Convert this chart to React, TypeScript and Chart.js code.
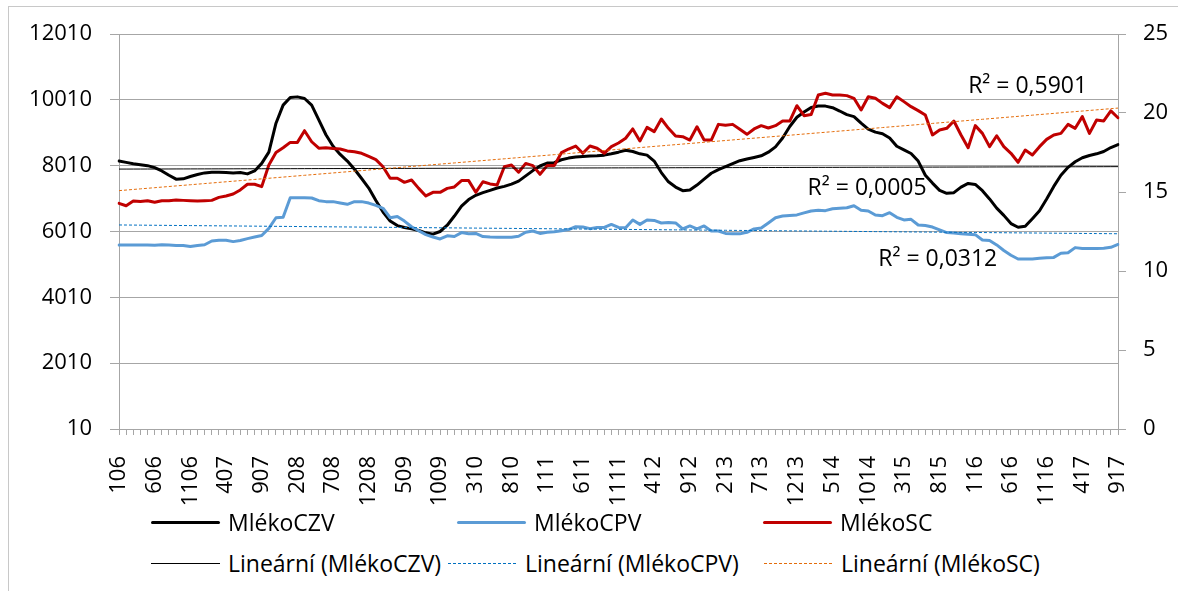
import React, { useEffect, useRef } from 'react';
import { Chart, registerables } from 'chart.js';

Chart.register(...registerables);

const CATEGORIES = [
  '106','206','306','406','506','606','706','806','906','1006','1106','1206',
  '107','207','307','407','507','607','707','807','907','1007','1107','1207',
  '108','208','308','408','508','608','708','808','908','1008','1108','1208',
  '109','209','309','409','509','609','709','809','909','1009','1109','1209',
  '110','210','310','410','510','610','710','810','910','1010','1110','1210',
  '111','211','311','411','511','611','711','811','911','1011','1111','1211',
  '112','212','312','412','512','612','712','812','912','1012','1112','1212',
  '113','213','313','413','513','613','713','813','913','1013','1113','1213',
  '114','214','314','414','514','614','714','814','914','1014','1114','1214',
  '115','215','315','415','515','615','715','815','915','1015','1115','1215',
  '116','216','316','416','516','616','716','816','916','1016','1116','1216',
  '117','217','317','417','517','617','717','817','917',
];

const MLEKO_CZV = [
  8150, 8110, 8070, 8040, 8010, 7950, 7850, 7720, 7600, 7610, 7680, 7740,
  7790, 7810, 7810, 7800, 7790, 7800, 7760, 7850, 8080, 8420, 9300, 9850,
  10080, 10100, 10050, 9850, 9400, 8950, 8600, 8350, 8150, 7900, 7620, 7330,
  6950, 6600, 6330, 6190, 6130, 6090, 6040, 5970, 5930, 6010, 6200, 6480,
  6780, 6980, 7110, 7190, 7260, 7330, 7380, 7450, 7540, 7700, 7860, 8000,
  8090, 8100, 8190, 8240, 8270, 8290, 8300, 8310, 8330, 8370, 8420, 8480,
  8440, 8370, 8330, 8150, 7800, 7520, 7360, 7250, 7270, 7420, 7600, 7780,
  7890, 7980, 8070, 8160, 8210, 8260, 8310, 8420, 8580, 8850, 9200, 9480,
  9640, 9780, 9820, 9820, 9770, 9670, 9560, 9500, 9300, 9120, 9030, 8980,
  8850, 8600, 8490, 8380, 8150, 7720, 7480, 7260, 7170, 7190, 7360, 7470,
  7440, 7250, 7000, 6720, 6500, 6250, 6140, 6170, 6400, 6640, 7000, 7380,
  7720, 7960, 8130, 8250, 8320, 8370, 8440, 8560, 8650,
];

const MLEKO_CPV = [
  11.65, 11.65, 11.65, 11.64, 11.65, 11.63, 11.66, 11.64, 11.62, 11.62, 11.55, 11.62,
  11.66, 11.9, 11.94, 11.94, 11.86, 11.93, 12.05, 12.15, 12.25, 12.7, 13.37, 13.4,
  14.64, 14.64, 14.64, 14.62, 14.45, 14.39, 14.39, 14.3, 14.22, 14.39, 14.39, 14.3,
  14.15, 13.97, 13.37, 13.45, 13.16, 12.8, 12.55, 12.3, 12.15, 12.03, 12.23, 12.18,
  12.43, 12.36, 12.38, 12.18, 12.15, 12.14, 12.14, 12.14, 12.2, 12.45, 12.53, 12.38,
  12.45, 12.48, 12.55, 12.62, 12.8, 12.78, 12.68, 12.76, 12.76, 12.95, 12.76, 12.74,
  13.23, 12.95, 13.23, 13.2, 13.04, 13.07, 13.04, 12.66, 12.85, 12.66, 12.85, 12.53,
  12.53, 12.38, 12.35, 12.35, 12.45, 12.66, 12.72, 13.04, 13.37, 13.48, 13.52, 13.55,
  13.68, 13.8, 13.84, 13.82, 13.94, 13.97, 14.0, 14.13, 13.85, 13.8, 13.54, 13.5,
  13.69, 13.4, 13.23, 13.27, 12.91, 12.88, 12.78, 12.6, 12.43, 12.4, 12.35, 12.32,
  12.3, 11.96, 11.93, 11.65, 11.3, 11.0, 10.76, 10.76, 10.76, 10.8, 10.84, 10.86,
  11.12, 11.15, 11.48, 11.43, 11.43, 11.42, 11.44, 11.5, 11.68,
];

const MLEKO_SC = [
  14.28, 14.13, 14.43, 14.4, 14.45, 14.35, 14.45, 14.45, 14.49, 14.47, 14.45, 14.43,
  14.45, 14.47, 14.66, 14.75, 14.87, 15.13, 15.49, 15.49, 15.34, 16.71, 17.5, 17.8,
  18.14, 18.14, 18.88, 18.18, 17.77, 17.8, 17.75, 17.72, 17.6, 17.55, 17.45, 17.25,
  17.05, 16.6, 15.87, 15.87, 15.61, 15.76, 15.23, 14.75, 14.98, 14.98, 15.23, 15.32,
  15.72, 15.72, 14.98, 15.65, 15.51, 15.45, 16.6, 16.71, 16.25, 16.81, 16.67, 16.12,
  16.67, 16.67, 17.49, 17.72, 17.91, 17.45, 17.91, 17.77, 17.45, 17.87, 18.1, 18.4,
  18.99, 18.23, 19.09, 18.82, 19.62, 19.03, 18.54, 18.5, 18.29, 19.13, 18.29, 18.29,
  19.28, 19.22, 19.28, 18.97, 18.65, 18.99, 19.2, 19.05, 19.2, 19.49, 19.49, 20.46,
  19.83, 19.9, 21.14, 21.25, 21.14, 21.14, 21.1, 20.93, 20.19, 21.03, 20.93, 20.61,
  20.34, 21.03, 20.72, 20.4, 20.15, 19.87, 18.61, 18.92, 19.03, 19.49, 18.61, 17.8,
  19.2, 18.71, 17.87, 18.56, 17.87, 17.45, 16.88, 17.66, 17.34, 17.87, 18.33, 18.61,
  18.71, 19.28, 19.03, 19.77, 18.71, 19.56, 19.5, 20.13, 19.7,
];

const LEFT_TICKS = [10, 2010, 4010, 6010, 8010, 10010, 12010];
const RIGHT_TICKS = [0, 5, 10, 15, 20, 25];

const SERIES_NAMES = ['MlékoCZV', 'MlékoCPV', 'MlékoSC'];
const TREND_NAMES = ['Lineární (MlékoCZV)', 'Lineární (MlékoCPV)', 'Lineární (MlékoSC)'];
const R2_TEXTS = ['R² = 0,5901', 'R² = 0,0005', 'R² = 0,0312'];
// anchor of each R² label: category index and right-axis value
const R2_INDEX = [119, 96.5, 106.4];
const R2_VALUE = [21.7, 15.2, 10.76];

const FONT_FAMILY = '"Open Sans"';
const TICK_SIZE = 22;
const TEXT_SIZE = 23;
const GRID = '#a6a6a6';

const COLORS = ['#000000', '#5B9BD5', '#C00000'];
const TREND_COLORS = ['#000000', '#0070C0', '#E46C0A'];

function linearTrend(values: number[]): number[] {
  const n = values.length;
  let sx = 0, sy = 0, sxx = 0, sxy = 0;
  values.forEach((v, i) => {
    const x = i + 1;
    sx += x; sy += v; sxx += x * x; sxy += x * v;
  });
  const slope = (n * sxy - sx * sy) / (n * sxx - sx * sx);
  const icpt = (sy - slope * sx) / n;
  return values.map((_, i) => icpt + slope * (i + 1));
}

const r2Plugin = {
  id: 'r2labels',
  afterDatasetsDraw(chart: any) {
    const ctx = chart.ctx;
    const xs = chart.scales.x;
    const ys = chart.scales.y2;
    ctx.save();
    ctx.font = `${TEXT_SIZE}px ${FONT_FAMILY}`;
    ctx.fillStyle = '#000';
    ctx.textAlign = 'left';
    ctx.textBaseline = 'middle';
    R2_TEXTS.forEach((t, k) => {
      ctx.fillText(t, xs.getPixelForValue(R2_INDEX[k]), ys.getPixelForValue(R2_VALUE[k]));
    });
    ctx.restore();
  },
};

const LEGEND_ROWS_Y = [522, 563];
const LEGEND_COLS_X = [[151, 457, 763], [151, 448, 764]];

export default function App() {
  const canvasRef = useRef<HTMLCanvasElement>(null);

  useEffect(() => {
    const series = [MLEKO_CZV, MLEKO_CPV, MLEKO_SC];
    const axes = ['y', 'y2', 'y2'];
    const datasets: any[] = [];
    series.forEach((s, k) => {
      datasets.push({
        label: SERIES_NAMES[k],
        data: s,
        yAxisID: axes[k],
        borderColor: COLORS[k],
        backgroundColor: COLORS[k],
        borderWidth: 3,
        pointRadius: 0,
        tension: 0,
        fill: false,
        borderJoinStyle: 'round',
        borderCapStyle: 'round',
        order: 10 - k,
      });
    });
    series.forEach((s, k) => {
      datasets.push({
        label: TREND_NAMES[k],
        data: linearTrend(s),
        yAxisID: axes[k],
        borderColor: TREND_COLORS[k],
        borderWidth: 1,
        borderDash: k === 0 ? [] : [3, 2],
        pointRadius: 0,
        fill: false,
        order: 3 - k,
      });
    });

    const tickFont = { family: FONT_FAMILY, size: TICK_SIZE };
    const chart = new Chart(canvasRef.current!, {
      type: 'line',
      data: { labels: CATEGORIES, datasets },
      options: {
        responsive: false,
        animation: false,
        devicePixelRatio: 1,
        layout: { padding: { top: 34, left: 0, right: 0, bottom: 0 } },
        plugins: { legend: { display: false }, tooltip: { enabled: false } },
        scales: {
          x: {
            type: 'category',
            offset: false,
            grid: { display: true, drawOnChartArea: false, drawTicks: true, tickLength: 6, color: GRID },
            border: { display: true, color: GRID },
            ticks: {
              autoSkip: false,
              maxRotation: 90,
              minRotation: 90,
              padding: 21,
              color: '#000',
              font: tickFont,
              callback: (_v: any, i: number) => (i % 5 === 0 ? CATEGORIES[i] : ''),
            },
            afterFit: (s: any) => { s.height = 86; },
          },
          y: {
            position: 'left',
            min: 10,
            max: 12010,
            afterBuildTicks: (s: any) => { s.ticks = LEFT_TICKS.map((v) => ({ value: v })); },
            grid: { color: GRID, tickLength: 9, drawTicks: true },
            border: { display: true, color: GRID },
            ticks: { padding: 18, color: '#000', font: tickFont, callback: (v: any) => String(v) },
            afterFit: (s: any) => { s.width = 119; },
          },
          y2: {
            position: 'right',
            min: 0,
            max: 25,
            afterBuildTicks: (s: any) => { s.ticks = RIGHT_TICKS.map((v) => ({ value: v })); },
            grid: { drawOnChartArea: false, tickLength: 8, color: GRID, drawTicks: true },
            border: { display: true, color: GRID },
            ticks: { padding: 17, color: '#000', font: tickFont, callback: (v: any) => String(v) },
            afterFit: (s: any) => { s.width = 60; },
          },
        },
      },
      plugins: [r2Plugin],
    } as any);

    return () => chart.destroy();
  }, []);

  const legendItems = [0, 1].flatMap((row) =>
    [0, 1, 2].map((col) => ({ row, col }))
  );

  return (
    <div style={{ position: 'fixed', left: 0, top: 0, width: 1178, height: 591, overflow: 'hidden', background: '#fff' }}>
      <div style={{ position: 'absolute', left: 8, top: 6, width: 2000, height: 2000, borderLeft: '1px solid #c8c8c8', borderTop: '1px solid #c8c8c8' }} />
      <canvas ref={canvasRef} width={1178} height={515} style={{ position: 'absolute', left: 0, top: 0, display: 'block' }} />
      {legendItems.map(({ row, col }) => {
        const x = LEGEND_COLS_X[row][col];
        const y = LEGEND_ROWS_Y[row];
        const color = row === 0 ? COLORS[col] : TREND_COLORS[col];
        const label = row === 0 ? SERIES_NAMES[col] : TREND_NAMES[col];
        const dashed = row === 1 && col > 0;
        const sample: React.CSSProperties = row === 0
          ? { width: 69, height: 3, background: color, borderRadius: 2 }
          : dashed
            ? { width: 69, height: 1, background: `repeating-linear-gradient(to right, ${color} 0 3px, transparent 3px 5px)` }
            : { width: 69, height: 1, background: color };
        return (
          <div key={`${row}-${col}`} style={{ position: 'absolute', left: x, top: y - 15, height: 30, display: 'flex', alignItems: 'center', whiteSpace: 'nowrap' }}>
            <div style={sample} />
            <span style={{ marginLeft: 8, fontFamily: FONT_FAMILY, fontSize: TEXT_SIZE, color: '#000', lineHeight: 1 }}>{label}</span>
          </div>
        );
      })}
    </div>
  );
}
